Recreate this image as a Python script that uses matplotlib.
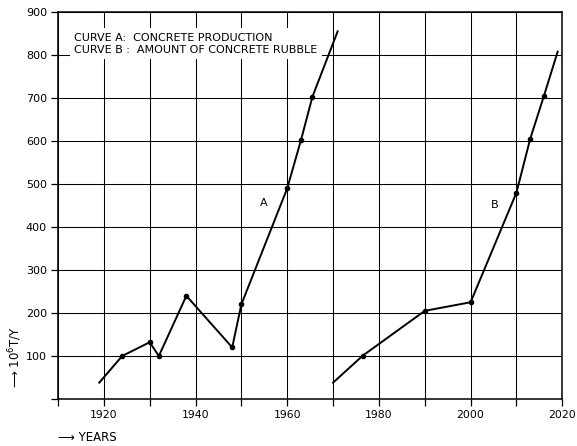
import matplotlib.pyplot as plt

# curve A: concrete production
yearsA = [1919, 1924, 1930, 1932, 1938, 1948, 1950, 1960, 1963, 1965.5, 1971]
valsA = [38, 100, 132, 100, 240, 120, 220, 490, 602, 703, 855]
# curve B: amount of concrete rubble
yearsB = [1970, 1976.5, 1990, 2000, 2010, 2013, 2016, 2019]
valsB = [38, 101, 205, 225, 480, 605, 705, 808]

xticks = [1910, 1920, 1930, 1940, 1950, 1960, 1970, 1980, 1990, 2000, 2010, 2020]
xlabels = ['', '1920', '', '1940', '', '1960', '', '1980', '', '2000', '', '2020']
yticks = [0, 100, 200, 300, 400, 500, 600, 700, 800, 900]
ylabels = ['', '100', '200', '300', '400', '500', '600', '700', '800', '900']

plt.rcParams['font.family'] = ['DejaVu Sans']
fig = plt.figure(figsize=(5.77, 4.46), dpi=100)
ax = fig.add_axes([0.1005, 0.1054, 0.874, 0.8676])

ax.set_xlim(1910, 2020)
ax.set_ylim(0, 900)
ax.set_xticks(xticks, xlabels, fontsize=7.8)
ax.set_yticks(yticks, ylabels, fontsize=8)
ax.tick_params(direction='out', length=5, width=0.9, color='black', pad=3)
ax.grid(True, color='black', linewidth=0.75)
for s in ax.spines.values():
    s.set_linewidth(1.1)

# end points without dots
ax.plot(yearsA, valsA, color='black', linewidth=1.4, zorder=3)
ax.plot(yearsA[1:-1], valsA[1:-1], 'o', color='black', markersize=3, zorder=4)
ax.plot(yearsB, valsB, color='black', linewidth=1.4, zorder=3)
ax.plot(yearsB[1:-1], valsB[1:-1], 'o', color='black', markersize=3, zorder=4)

ax.text(1954.8, 455, 'A', fontsize=8, ha='center', va='center')
ax.text(2005.2, 452, 'B', fontsize=8, ha='center', va='center')

ax.text(1913.5, 826, 'CURVE A:  CONCRETE PRODUCTION\nCURVE B :  AMOUNT OF CONCRETE RUBBLE',
        fontsize=8, ha='left', va='center', linespacing=1.3, zorder=5,
        bbox=dict(facecolor='white', edgecolor='none', pad=3))

fig.text(0.026, 0.2, '\u27F6 10$^{6}$T/Y', rotation=90, fontsize=8.5,
         ha='center', va='center')
fig.text(0.10, 0.02, '\u27F6 YEARS', fontsize=8.5, ha='left', va='center')

fig.savefig('out.png', dpi=100)
